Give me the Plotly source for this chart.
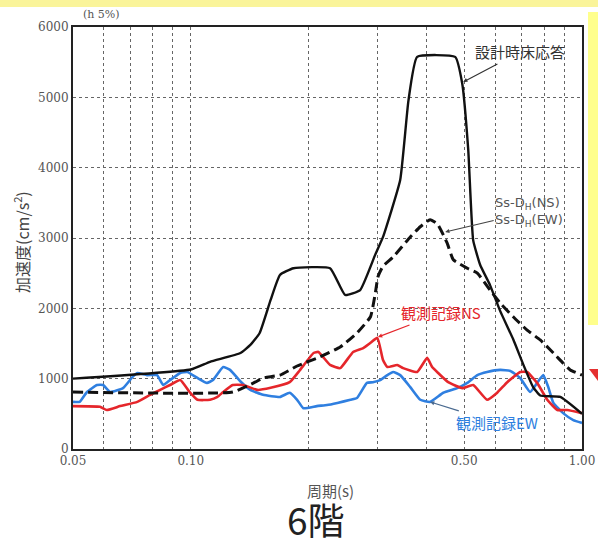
import math
import plotly.graph_objects as go

# ---- data ----
design_T = [0.05, 0.10, 0.112, 0.134, 0.142, 0.150, 0.160, 0.169, 0.183, 0.227, 0.248, 0.271,
            0.296, 0.310, 0.343, 0.360, 0.379, 0.474, 0.494, 0.512, 0.527, 0.549, 0.582,
            0.618, 0.667, 0.708, 0.750, 0.782, 0.88, 1.0]
design_A = [1000, 1130, 1240, 1365, 1480, 1650, 2120, 2475, 2570, 2570, 2190, 2260,
            2760, 3015, 3825, 4950, 5575, 5575, 5200, 4250, 2970, 2620, 2330,
            1960, 1560, 1200, 880, 760, 740, 500]

ss_T = [0.05, 0.128, 0.146, 0.153, 0.169, 0.187, 0.214, 0.241, 0.266, 0.288, 0.296, 0.301,
        0.310, 0.329, 0.364, 0.386, 0.409, 0.427, 0.452, 0.469, 0.509, 0.540, 0.582, 0.618,
        0.667, 0.724, 0.782, 0.845, 0.895, 0.933, 1.0]
ss_A = [810, 810, 950, 1010, 1050, 1180, 1310, 1450, 1650, 1880, 2200, 2450,
        2600, 2730, 3015, 3160, 3260, 3200, 2930, 2690, 2570, 2500, 2260, 2075,
        1880, 1690, 1550, 1365, 1220, 1125, 1050]

ns_T = [0.05, 0.0586, 0.061, 0.066, 0.073, 0.0787, 0.0835, 0.0885, 0.094, 0.0996, 0.104, 0.112,
        0.117, 0.121, 0.128, 0.136, 0.148, 0.160, 0.179, 0.190, 0.206, 0.212, 0.227, 0.241,
        0.260, 0.276, 0.288, 0.300, 0.310, 0.318, 0.337, 0.349, 0.379, 0.402, 0.414, 0.429,
        0.455, 0.494, 0.527, 0.572, 0.607, 0.644, 0.695, 0.724, 0.768, 0.815, 0.865, 0.917, 1.0]
ns_A = [610, 600, 555, 610, 670, 770, 840, 910, 980, 800, 700, 700,
        740, 810, 910, 910, 840, 870, 950, 1120, 1365, 1380, 1195, 1150,
        1380, 1435, 1510, 1580, 1265, 1165, 1195, 1150, 1095, 1295, 1165, 1080,
        950, 865, 910, 700, 800, 950, 1095, 1095, 940, 700, 555, 555, 510]

ew_T = [0.05, 0.052, 0.0543, 0.0576, 0.0597, 0.0622, 0.0671, 0.071, 0.073, 0.0773, 0.082, 0.085,
        0.0885, 0.094, 0.098, 0.104, 0.110, 0.114, 0.121, 0.126, 0.134, 0.142, 0.153, 0.169,
        0.179, 0.187, 0.194, 0.210, 0.223, 0.237, 0.256, 0.266, 0.282, 0.292, 0.305, 0.318,
        0.329, 0.343, 0.364, 0.386, 0.409, 0.442, 0.480, 0.509, 0.540, 0.572, 0.618, 0.656,
        0.695, 0.737, 0.768, 0.796, 0.82, 0.845, 0.895, 0.95, 1.0]
ew_A = [670, 670, 810, 910, 910, 810, 865, 1025, 1080, 1050, 1050, 910,
        980, 1080, 1095, 1010, 940, 980, 1165, 1125, 960, 840, 770, 740,
        800, 700, 580, 610, 625, 655, 700, 725, 940, 950, 980, 1050,
        1095, 1050, 880, 700, 670, 800, 865, 940, 1050, 1095, 1125, 1110,
        1010, 810, 940, 1050, 880, 655, 510, 410, 370]

x_tickvals = [0.05, 0.10, 0.50, 1.00]
x_ticktext = ["0.05", "0.10", "0.50", "1.00"]
x_minor = [0.06, 0.07, 0.08, 0.09, 0.2, 0.3, 0.4, 0.6, 0.7, 0.8, 0.9]
y_tickvals = [0, 1000, 2000, 3000, 4000, 5000, 6000]

BLACK = "#111111"
RED = "#E5262B"
BLUE = "#2F7FE0"

fig = go.Figure()
fig.add_trace(go.Scatter(x=ew_T, y=ew_A, mode="lines",
                         line=dict(color=BLUE, width=2.6, shape="spline", smoothing=0.4), name="観測記録EW"))
fig.add_trace(go.Scatter(x=ns_T, y=ns_A, mode="lines",
                         line=dict(color=RED, width=2.6, shape="spline", smoothing=0.4), name="観測記録NS"))
fig.add_trace(go.Scatter(x=ss_T, y=ss_A, mode="lines",
                         line=dict(color=BLACK, width=3, dash="10px,5px", shape="spline", smoothing=0.4), name="Ss-DH"))
fig.add_trace(go.Scatter(x=design_T, y=design_A, mode="lines",
                         line=dict(color=BLACK, width=2.4, shape="spline", smoothing=0.4), name="設計時床応答"))

tick_font = dict(family="DejaVu Serif", size=12, color="#555555")
grid = dict(showgrid=True, gridcolor="#666666", griddash="dot", gridwidth=1)

fig.update_xaxes(type="log", range=[math.log10(0.05), math.log10(1.0)], automargin=False,
                 tickvals=x_tickvals, ticktext=x_ticktext, ticks="",
                 showline=True, linecolor="#222222", linewidth=2, mirror=True,
                 zeroline=False, tickfont=tick_font,
                 minor=dict(tickvals=x_minor, showgrid=True, gridcolor="#666666",
                            griddash="dot", gridwidth=1, ticks=""),
                 **grid)
fig.update_yaxes(range=[0, 6000], tickvals=y_tickvals, ticks="", automargin=False,
                 showline=True, linecolor="#222222", linewidth=2, mirror=True,
                 zeroline=False, tickfont=tick_font, **grid)

def px2paper(px, py):
    return (px - 73) / 509.0, (449 - py) / 422.0

cjk = "Noto Sans CJK JP"
ann = []
# curve labels
ann.append(dict(x=math.log10(0.497), y=5219, xref="x", yref="y", text="設計時床応答",
                font=dict(family=cjk, size=15, color="#333333"),
                ax=57, ay=-30, showarrow=True, arrowhead=2, arrowsize=0.7, arrowwidth=1.2,
                arrowcolor="#333333"))
ann.append(dict(x=math.log10(0.447), y=3085, xref="x", yref="y",
                text="Ss-D<sub>H</sub>(NS)<br>Ss-D<sub>H</sub>(EW)", align="left",
                font=dict(family="DejaVu Sans", size=13, color="#555555"),
                ax=84, ay=-20, showarrow=True, arrowhead=2, arrowsize=0.7, arrowwidth=1.2,
                arrowcolor="#444444"))
ann.append(dict(x=math.log10(0.301), y=1593, xref="x", yref="y", text="観測記録NS",
                font=dict(family=cjk, size=15, color=RED),
                ax=63, ay=-24, showarrow=True, arrowhead=2, arrowsize=0.7, arrowwidth=1.2,
                arrowcolor=RED))
ann.append(dict(x=math.log10(0.409), y=670, xref="x", yref="y", text="観測記録EW",
                font=dict(family=cjk, size=15, color=BLUE),
                ax=67, ay=21, showarrow=True, arrowhead=2, arrowsize=0.7, arrowwidth=1.2,
                arrowcolor="#4A6A90"))
# texts
def text_at(px, py, text, font, angle=0):
    x, y = px2paper(px, py)
    ann.append(dict(x=x, y=y, xref="paper", yref="paper", text=text, showarrow=False,
                    xanchor="center", yanchor="middle", textangle=angle, font=font))

text_at(101, 14, "(h 5%)", dict(family="DejaVu Serif", size=11, color="#555555"))
text_at(21, 242, "加速度(cm/s<sup>2</sup>)", dict(family=cjk, size=16, color="#444444"), -90)
text_at(330, 490, "周期(s)", dict(family=cjk, size=15, color="#555555"))
text_at(316, 519, "6階", dict(family=cjk, size=37, color="#222222"))

shapes = []
x0, y0 = px2paper(0, 0)
x1, y1 = px2paper(598, 7)
shapes.append(dict(type="rect", xref="paper", yref="paper", x0=x0, y0=y1, x1=x1, y1=y0,
                   fillcolor="#FAF49A", line=dict(width=0), layer="below"))
x0, y0 = px2paper(588, 12)
x1, y1 = px2paper(598, 325)
shapes.append(dict(type="rect", xref="paper", yref="paper", x0=x0, y0=y1, x1=x1, y1=y0,
                   fillcolor="#FFFF8C", line=dict(width=0), layer="below"))
a = px2paper(589, 369)
b = px2paper(598, 369)
c = px2paper(598, 381)
shapes.append(dict(type="path", xref="paper", yref="paper",
                   path=f"M {a[0]} {a[1]} L {b[0]} {b[1]} L {c[0]} {c[1]} Z",
                   fillcolor="#E53030", line=dict(width=0)))

fig.update_layout(width=598, height=542, margin=dict(l=73, r=16, t=27, b=93),
                  paper_bgcolor="white", plot_bgcolor="white", showlegend=False,
                  autosize=False, annotations=ann, shapes=shapes)

fig.write_html("out.html", config={"responsive": False})
